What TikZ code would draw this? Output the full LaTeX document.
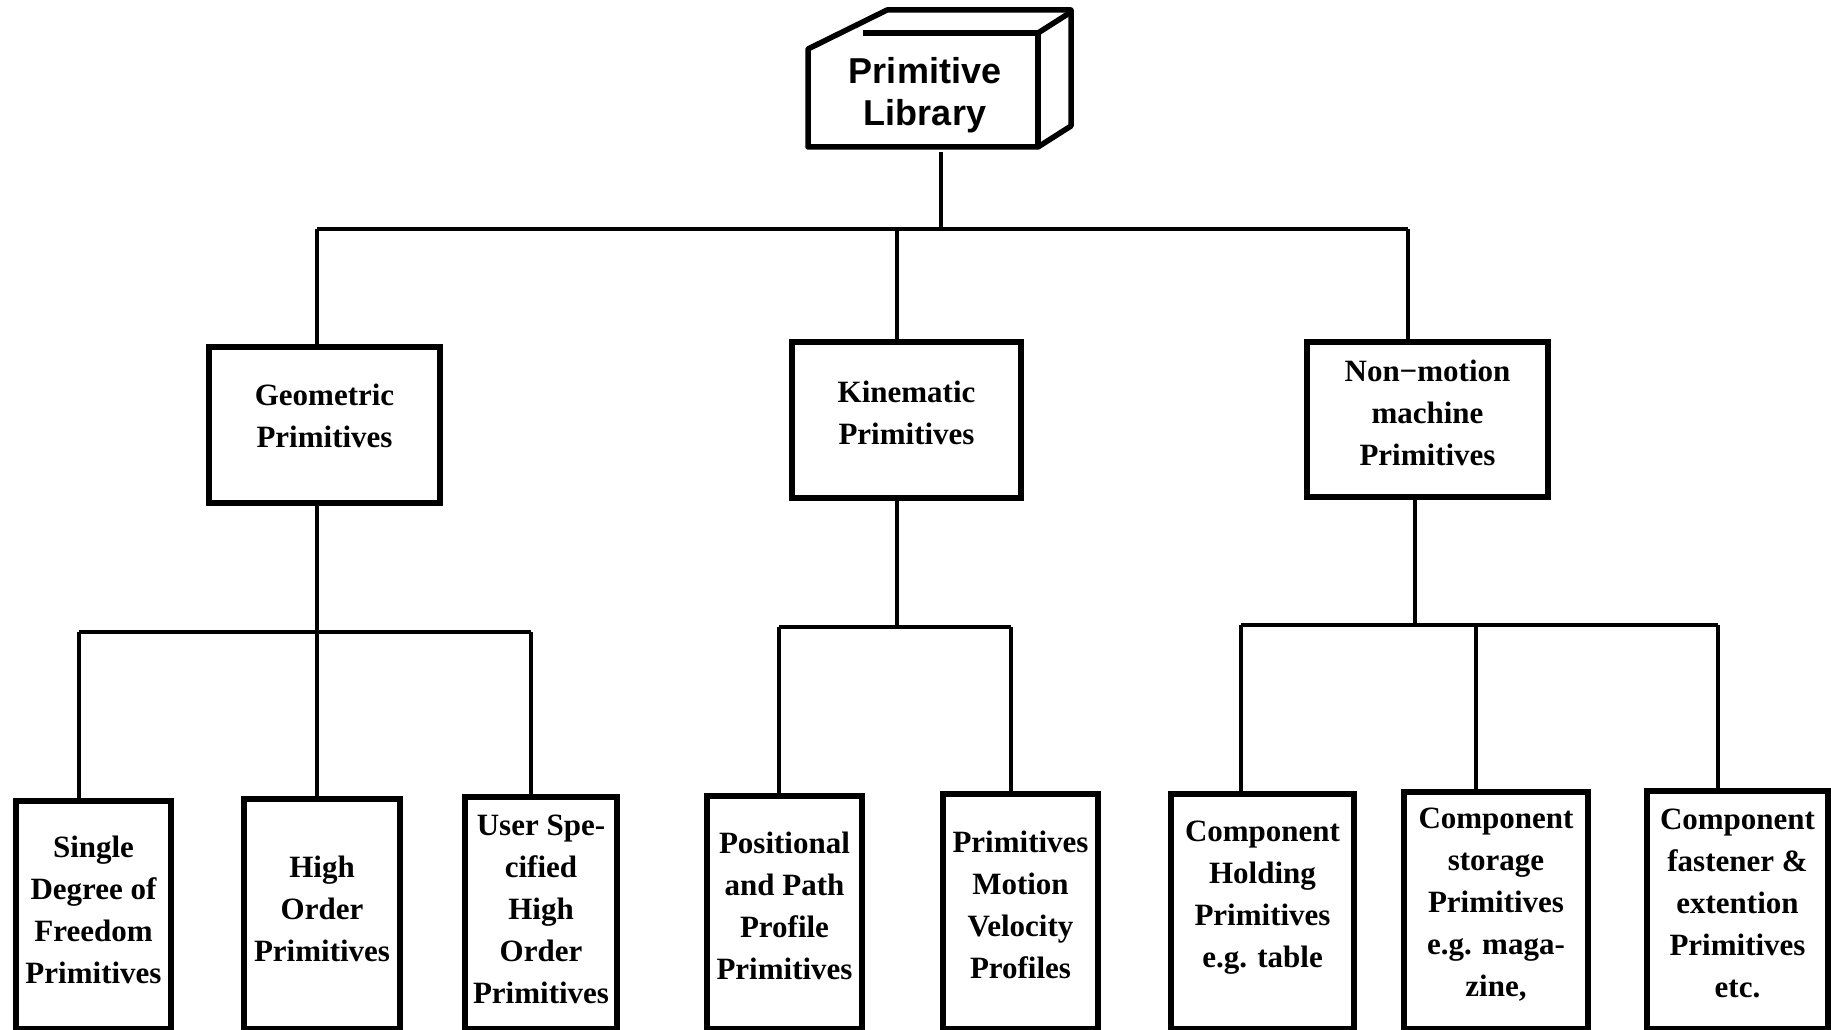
\documentclass[tikz,border=0pt]{standalone}
\usepackage{fontspec}
\setmainfont{Liberation Serif}
\newfontfamily\headfont{Liberation Sans}
% invisible rule that deepens the last line, lifting the text block
\newcommand\padd[1]{\rule[-#1]{0pt}{#1}}
\begin{document}
\begin{tikzpicture}[x=1pt,y=-1pt,
  box/.style={draw, line width=6pt, align=center, inner sep=0pt, anchor=north west,
    font=\bfseries\fontsize{31}{42}\selectfont},
  wire/.style={line width=4pt},
  solid3d/.style={line width=5.5pt, line join=round}]
\useasboundingbox (0,0) rectangle (1831,1030);
\fill[white] (0,0) rectangle (1831,1030);

% root: a box drawn in perspective
\node[inner sep=0pt, minimum width=230pt, minimum height=114pt,
      font=\headfont\bfseries\fontsize{36}{42}\selectfont, align=center]
      (lib) at (925,95) {Primitive\\Library};
\draw[solid3d] (808,147) -- (808,49) -- (887,10) -- (1071,10) -- (1071,126) -- (1038,147) -- cycle;
\draw[solid3d] (863,33) -- (1038,33) -- (1038,147);
\draw[solid3d] (1038,33) -- (1071,12);

% second level
\node[box, minimum width=231pt, minimum height=156pt] (geo) at (206,344) {Geometric\\Primitives\padd{18pt}};
\node[box, minimum width=229pt, minimum height=156pt] (kin) at (789,339) {Kinematic\\Primitives\padd{14pt}};
\node[box, minimum width=241pt, minimum height=155pt] (non) at (1304,339) {Non−motion\\machine\\Primitives\padd{14pt}};

% third level
\node[box, minimum width=155pt, minimum height=228pt] (sdf) at (13,798) {Single\\Degree of\\Freedom\\Primitives\padd{10pt}};
\node[box, minimum width=156pt, minimum height=230pt] (hio) at (241,796) {High\\Order\\Primitives\padd{10pt}};
\node[box, minimum width=152pt, minimum height=232pt] (usr) at (462,794) {User Spe-\\cified\\High\\Order\\Primitives\padd{8pt}};
\node[box, minimum width=155pt, minimum height=233pt] (pos) at (704,793) {Positional\\and Path\\Profile\\Primitives\padd{14pt}};
\node[box, minimum width=155pt, minimum height=235pt] (vel) at (940,791) {Primitives\\Motion\\Velocity\\Profiles\padd{14pt}};
\node[box, minimum width=183pt, minimum height=235pt] (hold) at (1168,791) {Component\\Holding\\Primitives\\e.g. table\padd{35pt}};
\node[box, minimum width=184pt, minimum height=237pt] (stor) at (1401,789) {Component\\storage\\Primitives\\e.g. maga-\\zine,\padd{16pt}};
\node[box, minimum width=181pt, minimum height=238pt] (fast) at (1644,788) {Component\\fastener \&\\extention\\Primitives\\etc.\padd{14pt}};

% bus from the root
\coordinate (tm) at (941,229);
\coordinate (ta) at (317,229);
\coordinate (tb) at (897,229);
\coordinate (tc) at (1408,229);
\draw[wire] (tm |- lib.south) -- (tm);
\draw[wire] (ta) -- (tc);
\draw[wire] (ta) -- (ta |- geo.north);
\draw[wire] (tb) -- (tb |- kin.north);
\draw[wire] (tc) -- (tc |- non.north);

% geometric branch
\coordinate (ga) at (79,632);
\coordinate (gb) at (317,632);
\coordinate (gc) at (531,632);
\draw[wire] (gb |- geo.south) -- (gb);
\draw[wire] (ga) -- (gc);
\draw[wire] (ga) -- (ga |- sdf.north);
\draw[wire] (gb) -- (gb |- hio.north);
\draw[wire] (gc) -- (gc |- usr.north);

% kinematic branch
\coordinate (km) at (897,627);
\coordinate (ka) at (779,627);
\coordinate (kb) at (1011,627);
\draw[wire] (km |- kin.south) -- (km);
\draw[wire] (ka) -- (kb);
\draw[wire] (ka) -- (ka |- pos.north);
\draw[wire] (kb) -- (kb |- vel.north);

% non-motion branch
\coordinate (nm) at (1415,625);
\coordinate (na) at (1241,625);
\coordinate (nb) at (1476,625);
\coordinate (nc) at (1718,625);
\draw[wire] (nm |- non.south) -- (nm);
\draw[wire] (na) -- (nc);
\draw[wire] (na) -- (na |- hold.north);
\draw[wire] (nb) -- (nb |- stor.north);
\draw[wire] (nc) -- (nc |- fast.north);
\end{tikzpicture}
\end{document}
